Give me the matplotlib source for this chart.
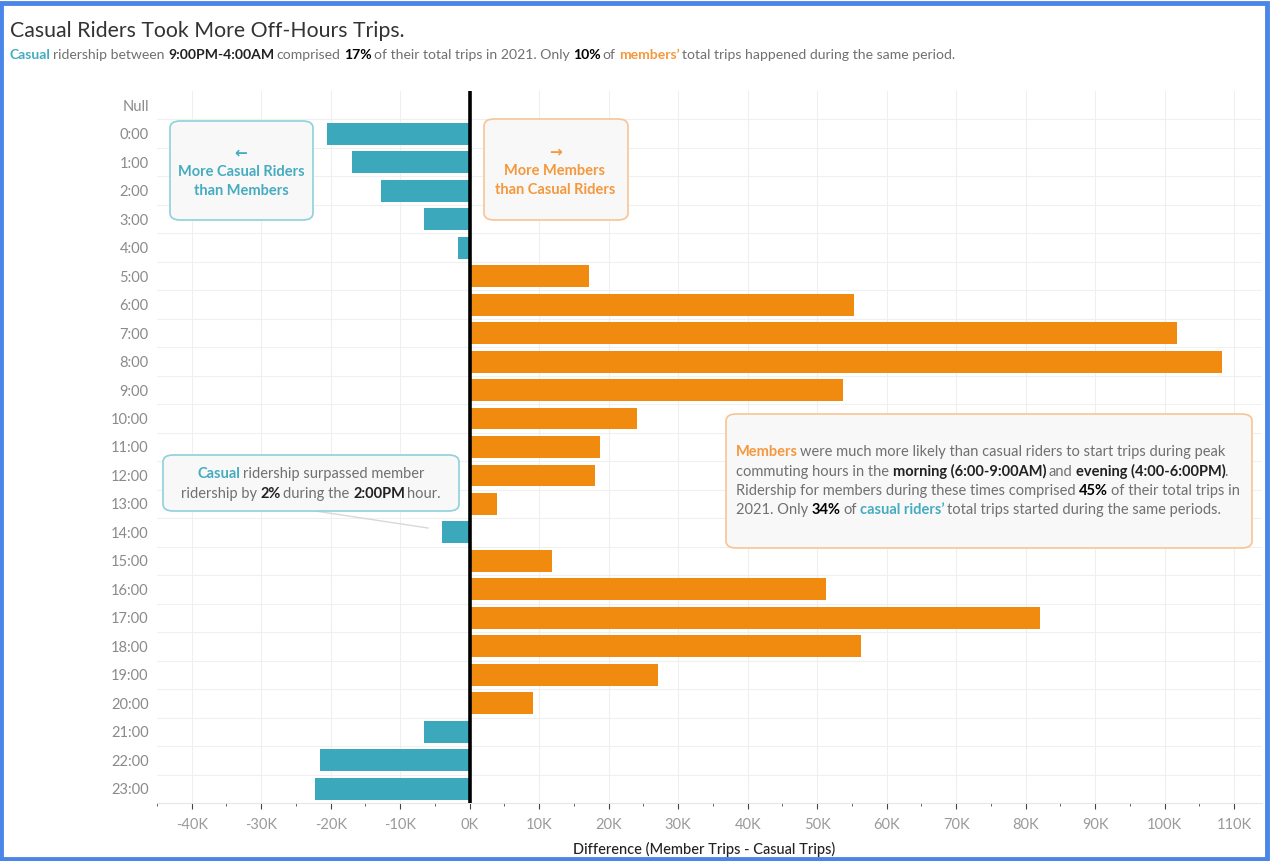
import matplotlib.pyplot as plt
from matplotlib.patches import FancyBboxPatch, Rectangle
from matplotlib.ticker import MultipleLocator, FuncFormatter

plt.rcParams['font.family'] = ['Lato', 'DejaVu Sans']

# hourly difference: member trips minus casual trips
hours = ['0:00', '1:00', '2:00', '3:00', '4:00', '5:00', '6:00', '7:00', '8:00', '9:00',
         '10:00', '11:00', '12:00', '13:00', '14:00', '15:00', '16:00', '17:00', '18:00',
         '19:00', '20:00', '21:00', '22:00', '23:00']
diff = [-20500, -17000, -12800, -6600, -1700, 17200, 55300, 101700, 108200, 53700,
        24000, 18800, 18000, 3900, -4000, 11800, 51200, 82000, 56300, 27100,
        9100, -6600, -21500, -22200]
labels = ['Null'] + hours

TEAL = '#3ba8bc'
ORANGE = '#f08b0f'
TEAL_TXT = '#45acc0'
ORANGE_TXT = '#f5983c'
GREY = '#707070'
DARK = '#222222'

W, H = 1270, 861
fig = plt.figure(figsize=(W / 100, H / 100), dpi=100)
renderer = fig.canvas.get_renderer()


def fx(x):
    return x / W


def fy(y):
    return 1 - y / H


ax = fig.add_axes([fx(157), fy(803), fx(1262) - fx(157), fy(91) - fy(803)])

ypos = list(range(1, len(hours) + 1))
colors = [ORANGE if v > 0 else TEAL for v in diff]
ax.barh(ypos, diff, height=0.77, color=colors, zorder=3)
ax.axvline(0, color='black', lw=2.6, zorder=4)

ax.set_ylim(len(labels) - 0.5, -0.5)
ax.set_yticks(range(len(labels)))
ax.set_yticklabels(labels)
ax.set_xlim(-45000, 114000)
ax.xaxis.set_major_locator(MultipleLocator(10000))
ax.xaxis.set_minor_locator(MultipleLocator(5000))
ax.xaxis.set_major_formatter(FuncFormatter(lambda v, p: f'{int(round(v / 1000))}K'))

for s in ['top', 'right', 'left']:
    ax.spines[s].set_visible(False)
ax.spines['bottom'].set_color('#e6e6e6')
ax.tick_params(axis='y', length=0, pad=6, labelsize=10.5, labelcolor='#8a8a8a')
ax.tick_params(axis='x', which='major', length=4, color='#444444', pad=7,
               labelsize=10.5, labelcolor='#9a9a9a')
ax.tick_params(axis='x', which='minor', length=2, color='#444444')
ax.grid(axis='x', color='#efefef', lw=0.8, zorder=0)
for i in range(len(labels) - 1):
    ax.axhline(i + 0.5, color='#f0f0f0', lw=0.8, zorder=0)

fig.text(fx(704), fy(849), 'Difference (Member Trips - Casual Trips)', ha='center',
         va='center', fontsize=10.5, color='#222222', fontweight='medium')


def seg_width(s, size, weight):
    t = fig.text(0, 0, s, fontsize=size, fontweight=weight)
    w = t.get_window_extent(renderer).width
    t.remove()
    return w


def rich(x, y, parts, size, align='left'):
    # parts: (text, color, weight); spaces measured separately
    sp = seg_width('a a', size, 'normal') - seg_width('aa', size, 'normal')
    items = []
    total = 0
    for s, c, wgt in parts:
        lead = len(s) - len(s.lstrip(' '))
        trail = len(s) - len(s.rstrip(' '))
        core = s.strip(' ')
        w = seg_width(core, size, wgt) if core else 0
        if wgt == 'bold' and core:
            w -= 1.5
        items.append((total + lead * sp, core, c, wgt))
        total += lead * sp + w + trail * sp
    x0 = x - total / 2 if align == 'center' else x
    for off, core, c, wgt in items:
        if core:
            fig.text(fx(x0 + off), fy(y), core, fontsize=size, color=c,
                     fontweight=wgt, va='baseline', ha='left', zorder=3)


def box(x0, y0, x1, y1, edge):
    p = FancyBboxPatch((fx(x0), fy(y1)), fx(x1) - fx(x0), fy(y0) - fy(y1),
                       boxstyle='round,pad=0,rounding_size=0.008',
                       transform=fig.transFigure, fc='#f8f8f8', ec=edge, lw=1.2,
                       zorder=1)
    fig.patches.append(p)


# title and subtitle
fig.text(fx(10), fy(37), 'Casual Riders Took More Off-Hours Trips.', fontsize=15.3,
         color='#333333', va='baseline')
rich(10, 59, [('Casual', TEAL_TXT, 'bold'), (' ridership between ', GREY, 'normal'),
              ('9:00PM-4:00AM', DARK, 'bold'), (' comprised ', GREY, 'normal'),
              ('17%', 'black', 'bold'), (' of their total trips in 2021. Only ', GREY, 'normal'),
              ('10%', 'black', 'bold'), (' of ', GREY, 'normal'),
              ('members\u2019', ORANGE_TXT, 'bold'),
              (' total trips happened during the same period.', GREY, 'normal')], 10.1)

# direction boxes
box(170, 121, 313, 220, '#8fd0dc')
fig.text(fx(241), fy(153), '\u2190', ha='center', va='center', fontsize=11,
         fontweight='bold', color=TEAL_TXT, family='DejaVu Sans', zorder=3)
fig.text(fx(241), fy(176), 'More Casual Riders', ha='center', va='baseline',
         fontsize=10.5, fontweight='bold', color=TEAL_TXT, zorder=3)
fig.text(fx(241), fy(195), 'than Members', ha='center', va='baseline',
         fontsize=10.5, fontweight='bold', color=TEAL_TXT, zorder=3)

box(484, 119, 628, 220, '#f8c494')
fig.text(fx(555), fy(152), '\u2192', ha='center', va='center', fontsize=11,
         fontweight='bold', color=ORANGE_TXT, family='DejaVu Sans', zorder=3)
fig.text(fx(555), fy(175), 'More Members', ha='center', va='baseline',
         fontsize=10.5, fontweight='bold', color=ORANGE_TXT, zorder=3)
fig.text(fx(555), fy(194), 'than Casual Riders', ha='center', va='baseline',
         fontsize=10.5, fontweight='bold', color=ORANGE_TXT, zorder=3)

# 2PM callout
fig.add_artist(plt.Line2D([fx(315), fx(428)], [fy(511), fy(528)], color='#d8d8d8',
                          lw=1, transform=fig.transFigure, zorder=1))
box(163, 455, 459, 511, '#8fd0dc')
rich(311, 478, [('Casual', TEAL_TXT, 'bold'),
                (' ridership surpassed member', GREY, 'normal')], 10.5, 'center')
rich(311, 498, [('ridership by ', GREY, 'normal'), ('2%', DARK, 'bold'),
                (' during the ', GREY, 'normal'), ('2:00PM', DARK, 'bold'),
                (' hour.', GREY, 'normal')], 10.5, 'center')

# peak-hours callout
box(726, 414, 1252, 548, '#f8c494')
rich(736, 456, [('Members', ORANGE_TXT, 'bold'),
                (' were much more likely than casual riders to start trips during peak',
                 GREY, 'normal')], 10.5)
rich(736, 476, [('commuting hours in the ', GREY, 'normal'),
                ('morning (6:00-9:00AM)', DARK, 'bold'), (' and ', GREY, 'normal'),
                ('evening (4:00-6:00PM)', DARK, 'bold'), ('.', GREY, 'normal')], 10.5)
rich(736, 495, [('Ridership for members during these times comprised ', GREY, 'normal'),
                ('45%', 'black', 'bold'), (' of their total trips in', GREY, 'normal')], 10.5)
rich(736, 514, [('2021. Only ', GREY, 'normal'), ('34%', 'black', 'bold'),
                (' of ', GREY, 'normal'), ('casual riders\u2019', TEAL_TXT, 'bold'),
                (' total trips started during the same periods.', GREY, 'normal')], 10.5)

# outer frame
fig.patches.append(Rectangle((0.001, 0.002), 0.997, 0.995, transform=fig.transFigure,
                             fill=False, ec='#4a86e8', lw=3.5))

fig.savefig('out.png', dpi=100)
